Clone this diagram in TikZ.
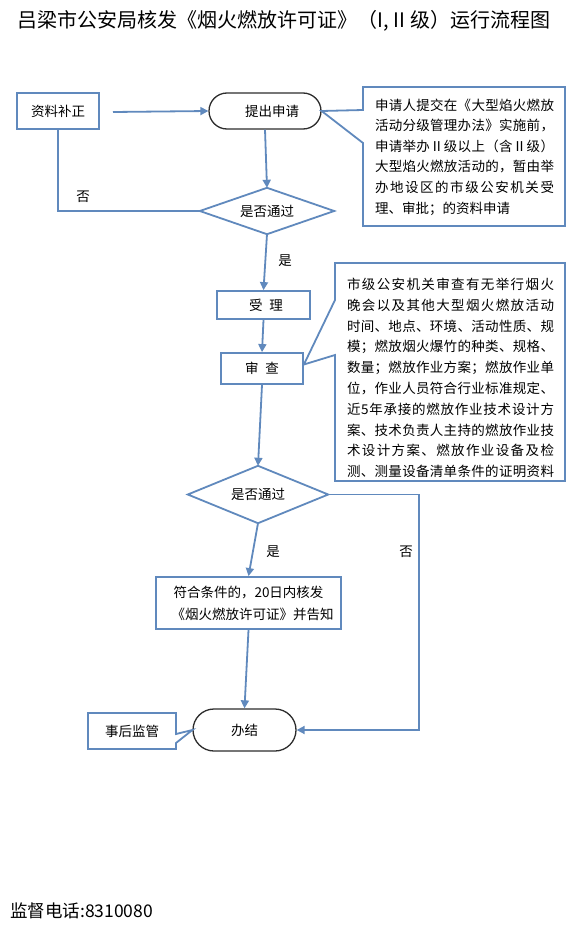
\documentclass[tikz,border=0pt]{standalone}
\usepackage{fontspec}
\setmainfont{Noto Sans CJK SC}
\usetikzlibrary{arrows.meta}
\definecolor{lb}{RGB}{96,137,189}
\definecolor{dk}{RGB}{45,45,45}
\newcommand\fsz{\fontsize{13.5pt}{16pt}\selectfont}
\def\jsp#1{#1\futurelet\jnext\jspx}
\def\jspx{\ifx\jnext\relax\expandafter\jgobble\else\hfil\expandafter\jsp\fi}
\def\jgobble#1{}
\newcommand\jl[2]{\makebox[#1][s]{\jsp#2\relax}}
\begin{document}
\begin{tikzpicture}[x=1pt,y=-1pt,
  box/.style={draw=lb,line width=1.8pt,fill=white,inner sep=0pt,font=\fsz},
  stad/.style={draw=dk,line width=1.3pt,fill=white,inner sep=0pt,font=\fsz},
  plain/.style={inner sep=0pt,font=\fsz},
  dline/.style={draw=lb,line width=1.8pt},
  ar/.style={draw=lb,line width=1.8pt,-{Triangle[length=8pt,width=8pt]}},
  lab/.style={inner sep=0pt,font=\fsz}]
\path[use as bounding box,fill=white] (0,0) rectangle (575,934);

% title
\node[inner sep=0pt,font=\fontsize{20pt}{22pt}\selectfont] (title) at (284,21) {吕梁市公安局核发《烟火燃放许可证》（I, II 级）运行流程图};

% nodes
\node[box,minimum width=82pt,minimum height=36pt] (zl) at (58,111) {资料补正};
\node[stad,rounded corners=18pt,minimum width=112pt,minimum height=36pt] (tc) at (265,111) {\hspace*{14pt}提出申请};
\node[plain,minimum width=134pt,minimum height=46pt] (d1) at (267,211) {是否通过};
\node[box,minimum width=93pt,minimum height=28pt] (sl) at (263.5,305) {\hspace*{5pt}受\hspace{7pt}理};
\node[box,minimum width=82pt,minimum height=31pt] (sc) at (262,368.5) {审\hspace{7pt}查};
\node[plain,minimum width=140pt,minimum height=57pt] (d2) at (258,494.5) {是否通过};
\node[box,minimum width=185pt,minimum height=52pt,align=center,font=\fontsize{13.5pt}{22pt}\selectfont] (fh) at (248.5,603) {符合条件的，20日内核发\\\hspace*{8pt}《烟火燃放许可证》并告知};
\node[stad,rounded corners=21pt,minimum width=103pt,minimum height=42pt] (bj) at (244.5,730) {办结};

% diamonds
\draw[dline] (d1.north)--(d1.east)--(d1.south)--(d1.west)--cycle;
\draw[dline] (d2.north)--(d2.east)--(d2.south)--(d2.west)--cycle;

% connectors
\coordinate (a0) at (113,112);
\draw[ar] (a0) -- (tc.west);
\draw[ar] (tc.south) -- (d1.north);
\draw[dline] (d1.west) -| (zl.south);
\draw[ar] (d1.south) -- (sl.north);
\draw[ar] (sl.south) -- (sc.north);
\draw[ar] (sc.south) -- (d2.north);
\draw[ar] (d2.south) -- (fh.north);
\draw[ar] (fh.south) -- (bj.north);
\coordinate (nr) at (419,494.5);
\draw[ar] (d2.east) -- (nr) |- (bj.east);

% labels
\node[lab] (n1) at (83,197) {否};
\node[lab] (y1) at (285,261) {是};
\node[lab] (y2) at (273,552) {是};
\node[lab] (n2) at (406,552) {否};

% callout 1
\draw[dline,fill=white] (363,87) -- (565,87) -- (565,226) -- (363,226) -- (363,143) -- (tc.east) -- (363,110) -- cycle;
\node[inner sep=0pt,align=left,font=\fontsize{13.5pt}{20.6pt}\selectfont] (c1) at (464.5,157) {%
\jl{179pt}{申请人提交在《大型焰火燃放}\\
\jl{179pt}{活动分级管理办法》实施前，}\\
\jl{179pt}{申请举办Ⅱ级以上（含Ⅱ级）}\\
\jl{179pt}{大型焰火燃放活动的，暂由举}\\
\jl{179pt}{办地设区的市级公安机关受}\\
\makebox[179pt][l]{理、审批；的资料申请}};

% callout 2
\draw[dline,fill=white] (335,263) -- (565,263) -- (565,481) -- (335,481) -- (335,355) -- ([yshift=4pt]sc.east) -- (335,300) -- cycle;
\node[inner sep=0pt,align=left,font=\fontsize{13.5pt}{20.8pt}\selectfont] (c2) at (450.5,378) {%
\jl{207pt}{市级公安机关审查有无举行烟火}\\
\jl{207pt}{晚会以及其他大型烟火燃放活动}\\
\jl{207pt}{时间、地点、环境、活动性质、规}\\
\jl{207pt}{模；燃放烟火爆竹的种类、规格、}\\
\jl{207pt}{数量；燃放作业方案；燃放作业单}\\
\jl{207pt}{位，作业人员符合行业标准规定、}\\
\jl{207pt}{近5年承接的燃放作业技术设计方}\\
\jl{207pt}{案、技术负责人主持的燃放作业技}\\
\jl{207pt}{术设计方案、燃放作业设备及检}\\
\jl{207pt}{测、测量设备清单条件的证明资料}};

% callout 3
\draw[dline,fill=white] (88,713) -- (176,713) -- (176,734) -- (bj.west) -- (176,743) -- (176,749) -- (88,749) -- cycle;
\node[plain] (sh) at (132,731) {事后监管};

% footer
\node[inner sep=0pt,anchor=west,font=\fontsize{17.5pt}{19pt}\selectfont] (ft) at (10,911) {监督电话:8310080};
\end{tikzpicture}
\end{document}
